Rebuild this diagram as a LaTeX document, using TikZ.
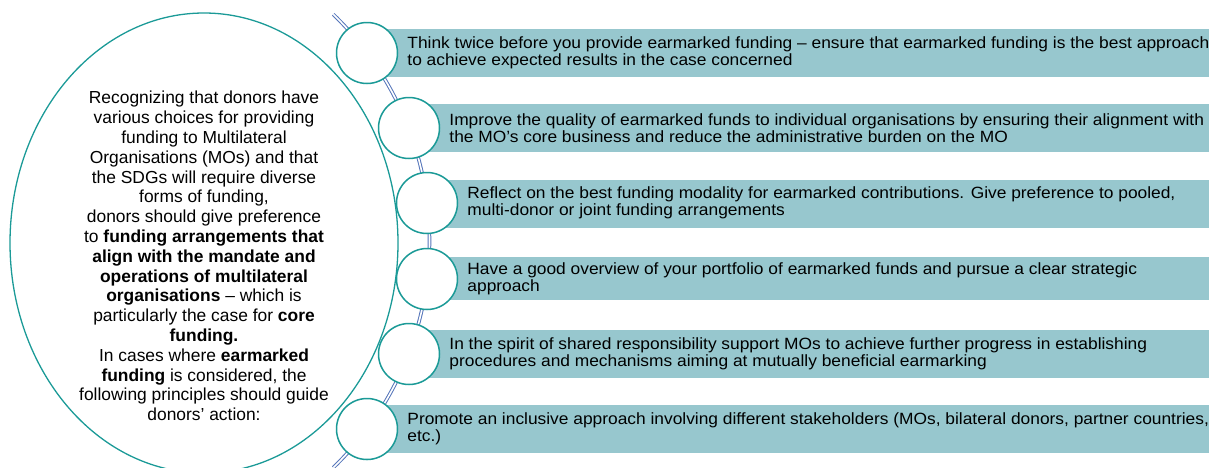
\documentclass[tikz,border=0pt]{standalone}
\usepackage{fontspec}
\setmainfont{Liberation Sans}
\newfontfamily\barfont{Liberation Sans}[FakeStretch=1.065]
\usetikzlibrary{positioning,shapes.geometric}
\definecolor{RingTeal}{HTML}{1B9A97}
\definecolor{BarTeal}{HTML}{97C7CE}
\definecolor{SpineBlue}{HTML}{5575BA}

\begin{document}
\begin{tikzpicture}[x=1pt,y=-1pt,node distance=9pt,
  bar/.style={fill=BarTeal,inner sep=0pt,minimum height=48pt},
  ring/.style={circle,draw=RingTeal,line width=1.5pt,fill=white,inner sep=0pt,minimum size=61pt},
  item/.style={inner sep=0pt,align=left,font=\barfont\fontsize{16.3}{17.5}\selectfont}]
\useasboundingbox (0,0) rectangle (1209,467);
\node[ellipse,draw=RingTeal,line width=1.3pt,inner sep=0pt,minimum width=388pt,minimum height=460pt] (frame) at (204,243) {};
\node[align=center,inner sep=0pt,font=\fontsize{17.4}{19.8}\selectfont] (intro) at (204,256) {Recognizing that donors have\\various choices for providing\\funding to Multilateral\\Organisations (MOs) and that\\the SDGs will require diverse\\forms of funding,\\donors should give preference\\to \textbf{funding arrangements that}\\\textbf{align with the mandate and}\\\textbf{operations of multilateral}\\\textbf{organisations} – which is\\particularly the case for \textbf{core}\\\textbf{funding.}\\In cases where \textbf{earmarked}\\\textbf{funding} is considered, the\\following principles should guide\\donors’ action:};
\draw[SpineBlue,line width=1pt,double=white,double distance=1.6pt] (333.3,14.4) arc[start angle=46,end angle=-46,radius=315pt];
\node[bar,minimum width=842pt] (thinkbar) at (788,53) {};
\node[bar,minimum width=800pt] (qualitybar) at (809,128) {};
\node[bar,minimum width=782pt] (modalitybar) at (818,203.5) {};
\node[bar,minimum width=782pt,minimum height=43pt] (portfoliobar) at (818,278.5) {};
\node[bar,minimum width=800pt] (spiritbar) at (809,353.5) {};
\node[bar,minimum width=842pt] (inclusivebar) at (788,429) {};
\node[ring] (think) at (367,53) {};
\node[ring] (quality) at (409,128) {};
\node[ring] (modality) at (427,203) {};
\node[ring] (portfolio) at (427,279) {};
\node[ring] (spirit) at (409,354) {};
\node[ring] (inclusive) at (367,429) {};
\node[item,right=of think] {Think twice before you provide earmarked funding – ensure that earmarked funding is the best approach\\to achieve expected results in the case concerned};
\node[item,right=of quality] {Improve the quality of earmarked funds to individual organisations by ensuring their alignment with\\the MO’s core business and reduce the administrative burden on the MO};
\node[item,right=of modality] {Reflect on the best funding modality for earmarked contributions. Give preference to pooled,\\multi-donor or joint funding arrangements};
\node[item,right=of portfolio] {Have a good overview of your portfolio of earmarked funds and pursue a clear strategic\\approach};
\node[item,right=of spirit] {In the spirit of shared responsibility support MOs to achieve further progress in establishing\\procedures and mechanisms aiming at mutually beneficial earmarking};
\node[item,right=of inclusive] {Promote an inclusive approach involving different stakeholders (MOs, bilateral donors, partner countries,\\etc.)};
\end{tikzpicture}
\end{document}
